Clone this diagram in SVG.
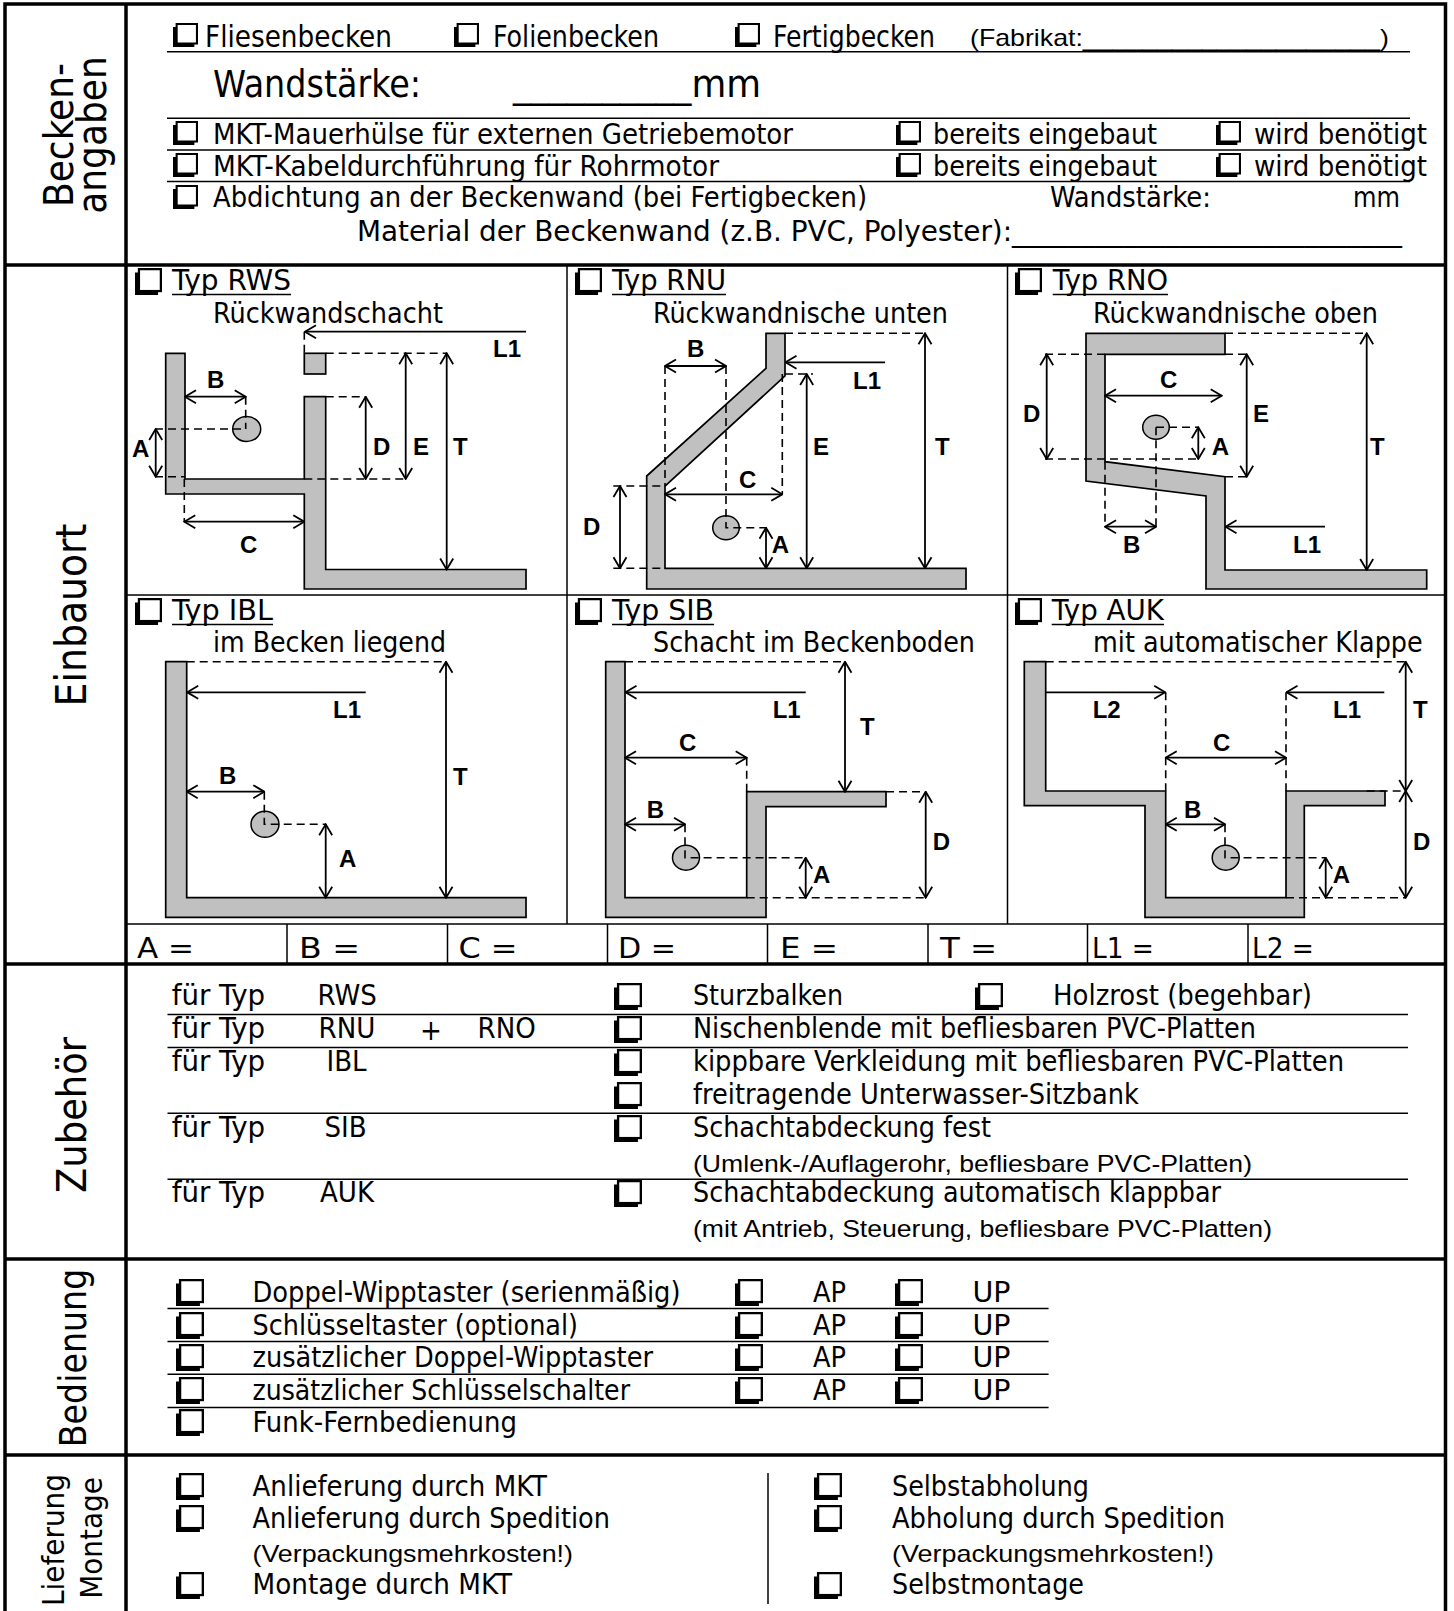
<svg xmlns="http://www.w3.org/2000/svg" xmlns:xlink="http://www.w3.org/1999/xlink" width="1454" height="1611" viewBox="0 0 1454 1611">
<style>
.t{font-family:"DejaVu Sans Condensed","DejaVu Sans",sans-serif;font-size:28px;fill:#000}
.z{font-family:"DejaVu Sans Condensed","DejaVu Sans",sans-serif;font-size:29px;fill:#000}
.hd{font-family:"DejaVu Sans Condensed","DejaVu Sans",sans-serif;fill:#000}
.s{font-family:"Liberation Sans",Arial,sans-serif;font-size:24px;fill:#000}
.lb{font-family:"Liberation Sans",Arial,sans-serif;font-weight:bold;font-size:24px;fill:#000}
.wall{fill:#c0c0c0;stroke:#000;stroke-width:1.7;stroke-linejoin:miter}
.ball{fill:#c0c0c0;stroke:#000;stroke-width:1.5}
.dash{fill:none;stroke:#000;stroke-width:1.6;stroke-dasharray:8 5}
.dim2{fill:none;stroke:#000;stroke-width:1.8;marker-start:url(#ah);marker-end:url(#ah)}
.dim1{fill:none;stroke:#000;stroke-width:1.8;marker-end:url(#ah)}
.thin{stroke:#000;stroke-width:1.5;fill:none}
.thick{stroke:#000;stroke-width:3.5;fill:none}
.ul{stroke:#000;stroke-width:1.6}
</style>
<defs>
<marker id="ah" viewBox="-13 -8 14 16" refX="0" refY="0" markerWidth="14" markerHeight="16" markerUnits="userSpaceOnUse" orient="auto-start-reverse">
<path d="M-11,-6.5 L0,0 L-11,6.5" fill="none" stroke="#000" stroke-width="1.8"/>
</marker>
<symbol id="cb" viewBox="0 0 24 24" preserveAspectRatio="none">
<rect x="0" y="4" width="20.5" height="20" fill="#000"/>
<rect x="3.5" y="1" width="19.5" height="19.5" fill="#fff" stroke="#000" stroke-width="2"/>
</symbol>
</defs>
<rect x="0" y="0" width="1454" height="1611" fill="#fff"/>

<g id="frame">
<path class="thick" d="M5,1611 V4 H1445.5 V1611"/>
<line class="thick" x1="126" y1="4" x2="126" y2="1611"/>
<line class="thick" x1="4" y1="265" x2="1446" y2="265"/>
<line class="thick" x1="4" y1="964" x2="1446" y2="964"/>
<line class="thick" x1="4" y1="1259" x2="1446" y2="1259"/>
<line class="thick" x1="4" y1="1455" x2="1446" y2="1455"/>
</g>

<g id="labels">
<text class="hd" style="font-size:40px" text-anchor="middle" transform="translate(73,135) rotate(-90)">Becken-</text>
<text class="hd" style="font-size:40px" text-anchor="middle" transform="translate(106,135) rotate(-90)">angaben</text>
<text class="hd" style="font-size:42px" text-anchor="middle" transform="translate(86,615) rotate(-90)">Einbauort</text>
<text class="hd" style="font-size:41px" text-anchor="middle" transform="translate(86,1115) rotate(-90)">Zubehör</text>
<text class="hd" style="font-size:37px" text-anchor="middle" transform="translate(86,1358) rotate(-90)">Bedienung</text>
<text class="hd" style="font-size:31px" text-anchor="middle" transform="translate(64,1540) rotate(-90)">Lieferung</text>
<text class="hd" style="font-size:31px" text-anchor="middle" transform="translate(102,1538) rotate(-90)">Montage</text>
</g>

<g id="beckenangaben">
<use xlink:href="#cb" x="173" y="23" width="25" height="24"/>
<text class="t" style="font-size:30px" x="205" y="47" textLength="187" lengthAdjust="spacingAndGlyphs">Fliesenbecken</text>
<use xlink:href="#cb" x="454" y="23" width="25" height="24"/>
<text class="t" style="font-size:30px" x="493" y="47" textLength="166" lengthAdjust="spacingAndGlyphs">Folienbecken</text>
<use xlink:href="#cb" x="735" y="23" width="25" height="24"/>
<text class="t" style="font-size:30px" x="773" y="47" textLength="162" lengthAdjust="spacingAndGlyphs">Fertigbecken</text>
<text class="s" x="970" y="46" textLength="419" lengthAdjust="spacingAndGlyphs">(Fabrikat:____________________)</text>
<line class="thin" x1="167" y1="51.7" x2="1410" y2="51.7"/>
<text class="t" style="font-size:37px" x="213" y="97" textLength="208" lengthAdjust="spacingAndGlyphs">Wandstärke:</text>
<text class="t" style="font-size:37px" x="513" y="97" textLength="248" lengthAdjust="spacingAndGlyphs">__________mm</text>
<line class="thin" x1="167" y1="118.3" x2="1410" y2="118.3"/>
<use xlink:href="#cb" x="173" y="121" width="25" height="24"/>
<text class="t" x="213" y="144" textLength="580" lengthAdjust="spacingAndGlyphs">MKT-Mauerhülse für externen Getriebemotor</text>
<use xlink:href="#cb" x="896" y="121" width="25" height="24"/>
<text class="t" x="933" y="144" textLength="224" lengthAdjust="spacingAndGlyphs">bereits eingebaut</text>
<use xlink:href="#cb" x="1216" y="121" width="25" height="24"/>
<text class="t" x="1254" y="144" textLength="173" lengthAdjust="spacingAndGlyphs">wird benötigt</text>
<line class="thin" x1="167" y1="150" x2="1410" y2="150"/>
<use xlink:href="#cb" x="173" y="153" width="25" height="24"/>
<text class="t" x="213" y="175.5" textLength="506" lengthAdjust="spacingAndGlyphs">MKT-Kabeldurchführung für Rohrmotor</text>
<use xlink:href="#cb" x="896" y="153" width="25" height="24"/>
<text class="t" x="933" y="175.5" textLength="224" lengthAdjust="spacingAndGlyphs">bereits eingebaut</text>
<use xlink:href="#cb" x="1216" y="153" width="25" height="24"/>
<text class="t" x="1254" y="175.5" textLength="173" lengthAdjust="spacingAndGlyphs">wird benötigt</text>
<line class="thin" x1="167" y1="181.5" x2="1410" y2="181.5"/>
<use xlink:href="#cb" x="173" y="185" width="25" height="24"/>
<text class="t" x="213" y="207" textLength="654" lengthAdjust="spacingAndGlyphs">Abdichtung an der Beckenwand (bei Fertigbecken)</text>
<text class="t" x="1050" y="207" textLength="161" lengthAdjust="spacingAndGlyphs">Wandstärke:</text>
<text class="t" x="1353" y="207" textLength="47" lengthAdjust="spacingAndGlyphs">mm</text>
<text class="t" x="357" y="241" textLength="1045" lengthAdjust="spacingAndGlyphs">Material der Beckenwand (z.B. PVC, Polyester):____________________________</text>
</g>

<g id="grid">
<line class="thin" x1="567" y1="265" x2="567" y2="924"/>
<line class="thin" x1="1007.5" y1="265" x2="1007.5" y2="924"/>
<line class="thin" x1="126" y1="595" x2="1446" y2="595"/>
<line class="thin" x1="126" y1="924" x2="1446" y2="924"/>
<line class="thin" x1="287" y1="924" x2="287" y2="964"/>
<line class="thin" x1="447.5" y1="924" x2="447.5" y2="964"/>
<line class="thin" x1="607.5" y1="924" x2="607.5" y2="964"/>
<line class="thin" x1="767.5" y1="924" x2="767.5" y2="964"/>
<line class="thin" x1="928" y1="924" x2="928" y2="964"/>
<line class="thin" x1="1087.5" y1="924" x2="1087.5" y2="964"/>
<line class="thin" x1="1248" y1="924" x2="1248" y2="964"/>
</g>

<g id="masse">
<text class="z" x="137" y="958" textLength="57" lengthAdjust="spacingAndGlyphs">A =</text>
<text class="z" x="299" y="958" textLength="61" lengthAdjust="spacingAndGlyphs">B  =</text>
<text class="z" x="458.5" y="958" textLength="59" lengthAdjust="spacingAndGlyphs">C  =</text>
<text class="z" x="618" y="958" textLength="58" lengthAdjust="spacingAndGlyphs">D  =</text>
<text class="z" x="780" y="958" textLength="58" lengthAdjust="spacingAndGlyphs">E  =</text>
<text class="z" x="940" y="958" textLength="57" lengthAdjust="spacingAndGlyphs">T  =</text>
<text class="z" x="1092" y="958" textLength="62" lengthAdjust="spacingAndGlyphs">L1 =</text>
<text class="z" x="1252" y="958" textLength="62" lengthAdjust="spacingAndGlyphs">L2 =</text>
</g>

<g id="typ-rws">
<use xlink:href="#cb" x="135" y="268" width="27" height="27"/>
<text class="z" x="172" y="290" textLength="119" lengthAdjust="spacingAndGlyphs">Typ RWS</text>
<line class="ul" x1="172" y1="294.5" x2="291" y2="294.5"/>
<text class="z" x="213" y="323" textLength="230" lengthAdjust="spacingAndGlyphs">Rückwandschacht</text>
<polygon class="wall" points="165.7,353.3 185,353.3 185,479 304.3,479 304.3,396.7 325.7,396.7 325.7,569.5 526,569.5 526,589 304.3,589 304.3,494 165.7,494"/>
<rect class="wall" x="304.3" y="353.3" width="21.4" height="20.7"/>
<ellipse class="ball" cx="246.7" cy="429" rx="14" ry="12.5"/>
<path class="dash" d="M304.3,331.7 V353.3 M325.7,353.3 H446.7 M325.7,396.7 H365.7 M304.3,479 H406 M245.7,396.7 V429 M155,429 H245.7 M155,476.7 H185 M184.3,479 V521.7"/>
<path class="dim1" d="M526,331.7 H305"/>
<path class="dim2" d="M446.7,353.3 V569.5"/>
<path class="dim2" d="M405.7,353.3 V479"/>
<path class="dim2" d="M365.7,396.7 V479"/>
<path class="dim2" d="M185,396.7 H245.7"/>
<path class="dim2" d="M155.7,429 V476.7"/>
<path class="dim2" d="M184.3,521.7 H304.3"/>
<text class="lb" x="493" y="357">L1</text>
<text class="lb" x="453" y="455">T</text>
<text class="lb" x="413" y="455">E</text>
<text class="lb" x="373" y="455">D</text>
<text class="lb" x="207" y="388">B</text>
<text class="lb" x="132" y="456.7">A</text>
<text class="lb" x="240" y="552.7">C</text>
</g>

<g id="typ-rnu">
<use xlink:href="#cb" x="575" y="268" width="27" height="27"/>
<text class="z" x="612" y="290" textLength="114" lengthAdjust="spacingAndGlyphs">Typ RNU</text>
<line class="ul" x1="612" y1="294.5" x2="726" y2="294.5"/>
<text class="z" x="653" y="323" textLength="295" lengthAdjust="spacingAndGlyphs">Rückwandnische unten</text>
<polygon class="wall" points="766,333.3 785,333.3 785,376 665,486 665,568.3 966,568.3 966,589 646.7,589 646.7,476 766,368.3"/>
<ellipse class="ball" cx="726" cy="527.7" rx="13.3" ry="12"/>
<path class="dash" d="M785,333.3 H925 M785,374 H813 M782.3,374 V494.3 M665,366 V486 M726,366 V527.7 H766.7 M613.3,486 H665 M613.3,568.3 H665"/>
<path class="dim2" d="M925,333.3 V568.3"/>
<path class="dim1" d="M885,362.3 H785.5"/>
<path class="dim2" d="M806.7,374 V568.3"/>
<path class="dim2" d="M665,494.3 H782.3"/>
<path class="dim2" d="M665,366 H726"/>
<path class="dim2" d="M766,527.7 V568.3"/>
<path class="dim2" d="M620,486 V568.3"/>
<text class="lb" x="935" y="455">T</text>
<text class="lb" x="853" y="389">L1</text>
<text class="lb" x="813" y="455">E</text>
<text class="lb" x="739" y="488">C</text>
<text class="lb" x="687" y="356.7">B</text>
<text class="lb" x="771.7" y="553">A</text>
<text class="lb" x="583" y="535">D</text>
</g>

<g id="typ-rno">
<use xlink:href="#cb" x="1015" y="268" width="27" height="27"/>
<text class="z" x="1052.7" y="290" textLength="115.3" lengthAdjust="spacingAndGlyphs">Typ RNO</text>
<line class="ul" x1="1052.7" y1="294.5" x2="1168" y2="294.5"/>
<text class="z" x="1093" y="323" textLength="285" lengthAdjust="spacingAndGlyphs">Rückwandnische oben</text>
<polygon class="wall" points="1086,333.3 1225,333.3 1225,354.3 1105,354.3 1105,461.7 1225,476.7 1225,570 1426.7,570 1426.7,589 1206,589 1206,496 1086,481"/>
<ellipse class="ball" cx="1156" cy="427.3" rx="13.3" ry="12"/>
<path class="dash" d="M1225,333.3 H1366.7 M1045,354.3 H1105 M1225,354.3 H1247 M1045,459 H1198 M1225,476.7 H1247 M1156,427.3 H1198 M1156,427.3 V526.7 M1105,461.7 V526.7"/>
<path class="dim2" d="M1366.7,333.3 V570"/>
<path class="dim2" d="M1046.7,354.3 V459"/>
<path class="dim2" d="M1246.7,354.3 V476.7"/>
<path class="dim2" d="M1105,395.7 H1221.7"/>
<path class="dim2" d="M1198.3,427.3 V459"/>
<path class="dim2" d="M1105,526.7 H1156"/>
<path class="dim1" d="M1325,526.7 H1225.5"/>
<text class="lb" x="1370" y="455">T</text>
<text class="lb" x="1023" y="421.7">D</text>
<text class="lb" x="1253" y="421.7">E</text>
<text class="lb" x="1160" y="388">C</text>
<text class="lb" x="1211.7" y="455">A</text>
<text class="lb" x="1123" y="552.7">B</text>
<text class="lb" x="1293" y="552.7">L1</text>
</g>

<g id="typ-ibl">
<use xlink:href="#cb" x="135" y="598" width="27" height="27"/>
<text class="z" x="172" y="620" textLength="101" lengthAdjust="spacingAndGlyphs">Typ IBL</text>
<line class="ul" x1="172" y1="624.5" x2="273" y2="624.5"/>
<text class="z" x="213" y="651.7" textLength="233" lengthAdjust="spacingAndGlyphs">im Becken liegend</text>
<polygon class="wall" points="165.7,661.7 186.7,661.7 186.7,897.7 526,897.7 526,917.3 165.7,917.3"/>
<ellipse class="ball" cx="265" cy="824.3" rx="14" ry="13"/>
<path class="dash" d="M186.7,661.7 H446 M264.3,791.7 V824.3 H325.7"/>
<path class="dim2" d="M446,661.7 V897.7"/>
<path class="dim1" d="M365.7,692.3 H187.2"/>
<path class="dim2" d="M186.7,791.7 H264.3"/>
<path class="dim2" d="M325.7,824.3 V897.7"/>
<text class="lb" x="453" y="785">T</text>
<text class="lb" x="333" y="718">L1</text>
<text class="lb" x="219" y="784">B</text>
<text class="lb" x="339" y="866.7">A</text>
</g>

<g id="typ-sib">
<use xlink:href="#cb" x="575" y="598" width="27" height="27"/>
<text class="z" x="612" y="620" textLength="102" lengthAdjust="spacingAndGlyphs">Typ SIB</text>
<line class="ul" x1="612" y1="624.5" x2="714" y2="624.5"/>
<text class="z" x="653" y="651.7" textLength="322" lengthAdjust="spacingAndGlyphs">Schacht im Beckenboden</text>
<polygon class="wall" points="605.7,661.7 625,661.7 625,897.7 746.7,897.7 746.7,791.7 886,791.7 886,806.7 766,806.7 766,917.3 605.7,917.3"/>
<ellipse class="ball" cx="686" cy="857.7" rx="13.5" ry="12.5"/>
<path class="dash" d="M625,661.7 H845 M746.7,757.7 V791.7 M685,824.3 V857.7 H805.7 M746.7,897.7 H925 M886,791.7 H925"/>
<path class="dim2" d="M845,661.7 V791.7"/>
<path class="dim1" d="M805.7,692.3 H625.5"/>
<path class="dim2" d="M625,757.7 H746.7"/>
<path class="dim2" d="M625,824.3 H685"/>
<path class="dim2" d="M805.7,857.7 V897.7"/>
<path class="dim2" d="M925.7,791.7 V897.7"/>
<text class="lb" x="860" y="735">T</text>
<text class="lb" x="772.7" y="718">L1</text>
<text class="lb" x="679" y="751">C</text>
<text class="lb" x="646.7" y="817.7">B</text>
<text class="lb" x="813" y="883">A</text>
<text class="lb" x="932.7" y="850">D</text>
</g>

<g id="typ-auk">
<use xlink:href="#cb" x="1015" y="598" width="27" height="27"/>
<text class="z" x="1051.7" y="620" textLength="112.3" lengthAdjust="spacingAndGlyphs">Typ AUK</text>
<line class="ul" x1="1051.7" y1="624.5" x2="1164" y2="624.5"/>
<text class="z" x="1093" y="651.7" textLength="329.7" lengthAdjust="spacingAndGlyphs">mit automatischer Klappe</text>
<polygon class="wall" points="1024.3,661.7 1045.7,661.7 1045.7,791 1165.7,791 1165.7,897.7 1286,897.7 1286,791 1385,791 1385,805.7 1304.3,805.7 1304.3,917.3 1145,917.3 1145,805.7 1024.3,805.7"/>
<ellipse class="ball" cx="1225.7" cy="857.7" rx="13.5" ry="12.5"/>
<path class="dash" d="M1045.7,661.7 H1405 M1366.7,791 H1405 M1286,897.7 H1405 M1165.7,692.3 V791 M1286,692.3 V791 M1225,824.3 V857.7 H1325.7"/>
<path class="dim2" d="M1405.7,661.7 V791"/>
<path class="dim2" d="M1405.7,791 V897.7"/>
<path class="dim1" d="M1045.7,692.3 H1165.2"/>
<path class="dim1" d="M1384.3,692.3 H1286.5"/>
<path class="dim2" d="M1165.7,757.7 H1286"/>
<path class="dim2" d="M1165.7,824.3 H1225"/>
<path class="dim2" d="M1325.7,857.7 V897.7"/>
<text class="lb" x="1413" y="718">T</text>
<text class="lb" x="1413" y="850">D</text>
<text class="lb" x="1092.7" y="718">L2</text>
<text class="lb" x="1333" y="718">L1</text>
<text class="lb" x="1213" y="751">C</text>
<text class="lb" x="1184" y="817.7">B</text>
<text class="lb" x="1332.7" y="883">A</text>
</g>

<g id="zubehoer">
<text class="z" x="171.7" y="1005" textLength="93.5" lengthAdjust="spacingAndGlyphs">für Typ</text>
<text class="z" x="317.6" y="1005">RWS</text>
<use xlink:href="#cb" x="614" y="983" width="28" height="27"/>
<text class="z" x="693" y="1005" textLength="150" lengthAdjust="spacingAndGlyphs">Sturzbalken</text>
<use xlink:href="#cb" x="975" y="983" width="28" height="27"/>
<text class="z" x="1053" y="1005" textLength="259" lengthAdjust="spacingAndGlyphs">Holzrost (begehbar)</text>
<line class="thin" x1="167.5" y1="1014.5" x2="1408" y2="1014.5"/>
<text class="z" x="171.7" y="1038" textLength="93.5" lengthAdjust="spacingAndGlyphs">für Typ</text>
<text class="z" x="318.5" y="1038">RNU</text>
<text class="z" x="420" y="1040">+</text>
<text class="z" x="477.5" y="1038">RNO</text>
<use xlink:href="#cb" x="614" y="1016" width="28" height="27"/>
<text class="z" x="693" y="1038" textLength="563" lengthAdjust="spacingAndGlyphs">Nischenblende mit befliesbaren PVC-Platten</text>
<line class="thin" x1="167.5" y1="1047.5" x2="1408" y2="1047.5"/>
<text class="z" x="171.7" y="1071" textLength="93.5" lengthAdjust="spacingAndGlyphs">für Typ</text>
<text class="z" x="326.5" y="1071">IBL</text>
<use xlink:href="#cb" x="614" y="1049" width="28" height="27"/>
<text class="z" x="693" y="1071" textLength="651" lengthAdjust="spacingAndGlyphs">kippbare Verkleidung mit befliesbaren PVC-Platten</text>
<use xlink:href="#cb" x="614" y="1082" width="28" height="27"/>
<text class="z" x="693" y="1103.5" textLength="446" lengthAdjust="spacingAndGlyphs">freitragende Unterwasser-Sitzbank</text>
<line class="thin" x1="167.5" y1="1113.3" x2="1408" y2="1113.3"/>
<text class="z" x="171.7" y="1136.7" textLength="93.5" lengthAdjust="spacingAndGlyphs">für Typ</text>
<text class="z" x="324.5" y="1136.7">SIB</text>
<use xlink:href="#cb" x="614" y="1115" width="28" height="27"/>
<text class="z" x="693" y="1136.7" textLength="298" lengthAdjust="spacingAndGlyphs">Schachtabdeckung fest</text>
<text class="s" x="693" y="1172" textLength="559" lengthAdjust="spacingAndGlyphs">(Umlenk-/Auflagerohr, befliesbare PVC-Platten)</text>
<line class="thin" x1="167.5" y1="1179.3" x2="1408" y2="1179.3"/>
<text class="z" x="171.7" y="1202" textLength="93.5" lengthAdjust="spacingAndGlyphs">für Typ</text>
<text class="z" x="320" y="1202">AUK</text>
<use xlink:href="#cb" x="614" y="1180" width="28" height="27"/>
<text class="z" x="693" y="1202" textLength="528" lengthAdjust="spacingAndGlyphs">Schachtabdeckung automatisch klappbar</text>
<text class="s" x="693" y="1237" textLength="579" lengthAdjust="spacingAndGlyphs">(mit Antrieb, Steuerung, befliesbare PVC-Platten)</text>
</g>

<g id="bedienung">
<use xlink:href="#cb" x="176" y="1279" width="28" height="27"/>
<text class="z" x="252.5" y="1301.7" textLength="428" lengthAdjust="spacingAndGlyphs">Doppel-Wipptaster (serienmäßig)</text>
<use xlink:href="#cb" x="735" y="1279" width="28" height="27"/>
<text class="z" x="813" y="1301.7" textLength="33" lengthAdjust="spacingAndGlyphs">AP</text>
<use xlink:href="#cb" x="895" y="1279" width="28" height="27"/>
<text class="z" x="972.5" y="1301.7" textLength="38" lengthAdjust="spacingAndGlyphs">UP</text>
<line class="thin" x1="167.5" y1="1308.5" x2="1048.6" y2="1308.5"/>
<use xlink:href="#cb" x="176" y="1312" width="28" height="27"/>
<text class="z" x="252.5" y="1335" textLength="325.5" lengthAdjust="spacingAndGlyphs">Schlüsseltaster (optional)</text>
<use xlink:href="#cb" x="735" y="1312" width="28" height="27"/>
<text class="z" x="813" y="1335" textLength="33" lengthAdjust="spacingAndGlyphs">AP</text>
<use xlink:href="#cb" x="895" y="1312" width="28" height="27"/>
<text class="z" x="972.5" y="1335" textLength="38" lengthAdjust="spacingAndGlyphs">UP</text>
<line class="thin" x1="167.5" y1="1341.5" x2="1048.6" y2="1341.5"/>
<use xlink:href="#cb" x="176" y="1344" width="28" height="27"/>
<text class="z" x="252.5" y="1367" textLength="400.5" lengthAdjust="spacingAndGlyphs">zusätzlicher Doppel-Wipptaster</text>
<use xlink:href="#cb" x="735" y="1344" width="28" height="27"/>
<text class="z" x="813" y="1367" textLength="33" lengthAdjust="spacingAndGlyphs">AP</text>
<use xlink:href="#cb" x="895" y="1344" width="28" height="27"/>
<text class="z" x="972.5" y="1367" textLength="38" lengthAdjust="spacingAndGlyphs">UP</text>
<line class="thin" x1="167.5" y1="1374.3" x2="1048.6" y2="1374.3"/>
<use xlink:href="#cb" x="176" y="1377" width="28" height="27"/>
<text class="z" x="252.5" y="1400" textLength="377.5" lengthAdjust="spacingAndGlyphs">zusätzlicher Schlüsselschalter</text>
<use xlink:href="#cb" x="735" y="1377" width="28" height="27"/>
<text class="z" x="813" y="1400" textLength="33" lengthAdjust="spacingAndGlyphs">AP</text>
<use xlink:href="#cb" x="895" y="1377" width="28" height="27"/>
<text class="z" x="972.5" y="1400" textLength="38" lengthAdjust="spacingAndGlyphs">UP</text>
<line class="thin" x1="167.5" y1="1407.5" x2="1048.6" y2="1407.5"/>
<use xlink:href="#cb" x="176" y="1409" width="28" height="27"/>
<text class="z" x="252.5" y="1432" textLength="264.5" lengthAdjust="spacingAndGlyphs">Funk-Fernbedienung</text>
</g>

<g id="lieferung">
<use xlink:href="#cb" x="176" y="1473" width="28" height="27"/>
<text class="z" x="252.5" y="1495.5" textLength="294.5" lengthAdjust="spacingAndGlyphs">Anlieferung durch MKT</text>
<use xlink:href="#cb" x="176" y="1505" width="28" height="27"/>
<text class="z" x="252.5" y="1527.5" textLength="357.5" lengthAdjust="spacingAndGlyphs">Anlieferung durch Spedition</text>
<text class="s" x="252.5" y="1562" textLength="320.5" lengthAdjust="spacingAndGlyphs">(Verpackungsmehrkosten!)</text>
<use xlink:href="#cb" x="176" y="1572" width="28" height="27"/>
<text class="z" x="252.5" y="1594" textLength="259.5" lengthAdjust="spacingAndGlyphs">Montage durch MKT</text>
<line class="thin" x1="768" y1="1473" x2="768" y2="1604"/>
<use xlink:href="#cb" x="814" y="1473" width="28" height="27"/>
<text class="z" x="892" y="1495.5" textLength="197" lengthAdjust="spacingAndGlyphs">Selbstabholung</text>
<use xlink:href="#cb" x="814" y="1505" width="28" height="27"/>
<text class="z" x="892" y="1527.5" textLength="333" lengthAdjust="spacingAndGlyphs">Abholung durch Spedition</text>
<text class="s" x="892" y="1562" textLength="322" lengthAdjust="spacingAndGlyphs">(Verpackungsmehrkosten!)</text>
<use xlink:href="#cb" x="814" y="1572" width="28" height="27"/>
<text class="z" x="892" y="1594" textLength="192" lengthAdjust="spacingAndGlyphs">Selbstmontage</text>
</g>
</svg>
